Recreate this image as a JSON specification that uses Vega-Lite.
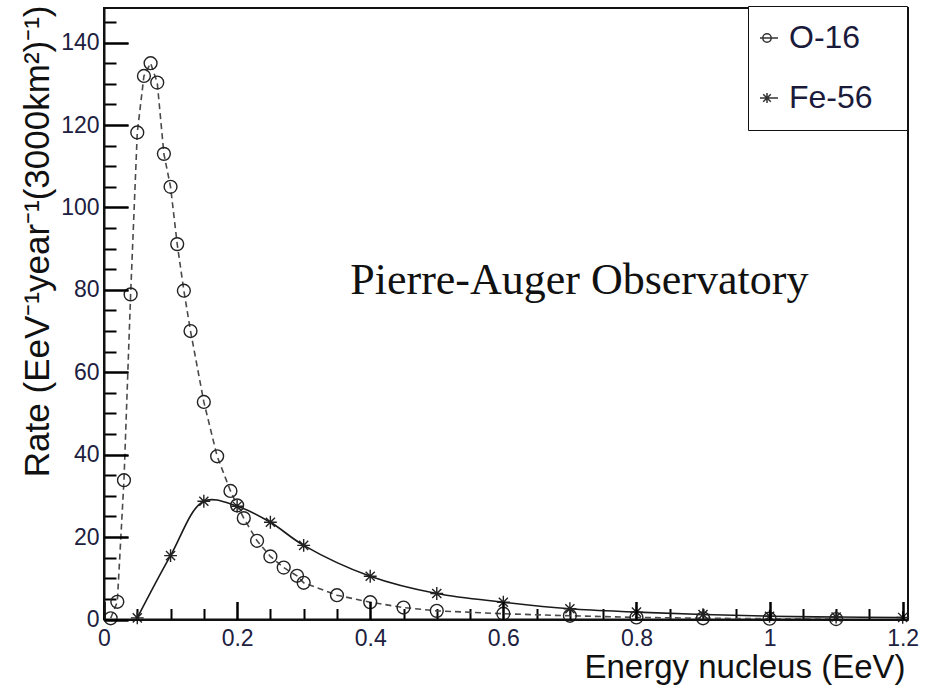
{
  "$schema": "https://vega.github.io/schema/vega-lite/v6.json",
  "autosize": "none",
  "width": 804,
  "height": 611.5,
  "padding": {"left": 104, "top": 8, "right": 26, "bottom": 69.5},
  "background": "white",
  "config": {
    "view": {"stroke": "#111", "strokeWidth": 2},
    "font": "Liberation Sans",
    "axis": {"grid": false, "domainColor": "#111", "domainWidth": 2, "tickColor": "#111", "tickWidth": 1.6, "labelColor": "#202040", "labelFont": "Liberation Sans", "labelFontSize": 23, "titleFont": "Liberation Sans", "titleColor": "#111", "titleFontWeight": "normal"}
  },
  "datasets": {
    "rates": [
      {"series": "O-16", "energy": 0.01, "rate": 0.3},
      {"series": "O-16", "energy": 0.02, "rate": 4.3},
      {"series": "O-16", "energy": 0.03, "rate": 33.8},
      {"series": "O-16", "energy": 0.04, "rate": 78.9},
      {"series": "O-16", "energy": 0.05, "rate": 118.2},
      {"series": "O-16", "energy": 0.06, "rate": 131.9},
      {"series": "O-16", "energy": 0.07, "rate": 135.0},
      {"series": "O-16", "energy": 0.08, "rate": 130.3},
      {"series": "O-16", "energy": 0.09, "rate": 113.0},
      {"series": "O-16", "energy": 0.10, "rate": 105.0},
      {"series": "O-16", "energy": 0.11, "rate": 91.1},
      {"series": "O-16", "energy": 0.12, "rate": 79.8},
      {"series": "O-16", "energy": 0.13, "rate": 70.0},
      {"series": "O-16", "energy": 0.15, "rate": 52.8},
      {"series": "O-16", "energy": 0.17, "rate": 39.6},
      {"series": "O-16", "energy": 0.19, "rate": 31.2},
      {"series": "O-16", "energy": 0.20, "rate": 27.7},
      {"series": "O-16", "energy": 0.21, "rate": 24.6},
      {"series": "O-16", "energy": 0.23, "rate": 19.1},
      {"series": "O-16", "energy": 0.25, "rate": 15.3},
      {"series": "O-16", "energy": 0.27, "rate": 12.6},
      {"series": "O-16", "energy": 0.29, "rate": 10.6},
      {"series": "O-16", "energy": 0.30, "rate": 8.9},
      {"series": "O-16", "energy": 0.35, "rate": 5.9},
      {"series": "O-16", "energy": 0.40, "rate": 4.2},
      {"series": "O-16", "energy": 0.45, "rate": 2.9},
      {"series": "O-16", "energy": 0.50, "rate": 2.1},
      {"series": "O-16", "energy": 0.60, "rate": 1.4},
      {"series": "O-16", "energy": 0.70, "rate": 0.9},
      {"series": "O-16", "energy": 0.80, "rate": 0.5},
      {"series": "O-16", "energy": 0.90, "rate": 0.3},
      {"series": "O-16", "energy": 1.00, "rate": 0.2},
      {"series": "O-16", "energy": 1.10, "rate": 0.1},
      {"series": "Fe-56", "energy": 0.05, "rate": 0.4},
      {"series": "Fe-56", "energy": 0.10, "rate": 15.5},
      {"series": "Fe-56", "energy": 0.15, "rate": 28.7},
      {"series": "Fe-56", "energy": 0.20, "rate": 27.5},
      {"series": "Fe-56", "energy": 0.25, "rate": 23.6},
      {"series": "Fe-56", "energy": 0.30, "rate": 18.0},
      {"series": "Fe-56", "energy": 0.40, "rate": 10.5},
      {"series": "Fe-56", "energy": 0.50, "rate": 6.3},
      {"series": "Fe-56", "energy": 0.60, "rate": 4.2},
      {"series": "Fe-56", "energy": 0.70, "rate": 2.6},
      {"series": "Fe-56", "energy": 0.80, "rate": 1.8},
      {"series": "Fe-56", "energy": 0.90, "rate": 1.2},
      {"series": "Fe-56", "energy": 1.00, "rate": 0.8},
      {"series": "Fe-56", "energy": 1.10, "rate": 0.6},
      {"series": "Fe-56", "energy": 1.20, "rate": 0.5}
    ],
    "note": [{"label": "Pierre-Auger Observatory"}]
  },
  "data": {"name": "rates"},
  "resolve": {"axis": {"x": "independent", "y": "independent"}},
  "layer": [
    {
      "transform": [{"filter": "datum.series === 'O-16'"}],
      "mark": {"type": "line", "color": "#4a4a4a", "strokeWidth": 1.6, "strokeDash": [6, 4], "interpolate": "linear"},
      "encoding": {
        "x": {"field": "energy", "type": "quantitative", "scale": {"domain": [0, 1.208], "nice": false, "zero": false},
          "axis": {"orient": "bottom", "zindex": 1, "values": [0, 0.2, 0.4, 0.6, 0.8, 1, 1.2], "format": "~g", "ticks": true, "tickSize": -18, "tickColor": "#000", "tickWidth": 2, "labelPadding": 26, "labelFlush": false,
            "title": "Energy nucleus (EeV)", "titleFontSize": 33, "titleAnchor": "end", "titleAlign": "right", "titleBaseline": "alphabetic", "titleX": 801, "titleY": 58}},
        "y": {"field": "rate", "type": "quantitative", "scale": {"domain": [0, 148.4], "nice": false},
          "axis": {"orient": "left", "zindex": 1, "values": [0, 20, 40, 60, 80, 100, 120, 140], "ticks": true, "tickSize": -24, "tickColor": "#000", "tickWidth": 2, "labelPadding": 29,
            "title": "Rate (EeV⁻¹year⁻¹(3000km²)⁻¹)", "titleFontSize": 35, "titleAnchor": "end", "titleAlign": "right", "titleBaseline": "middle", "titleAngle": -90, "titleX": -67, "titleY": -3}}
      }
    },
    {
      "transform": [{"filter": "datum.series === 'Fe-56'"}],
      "mark": {"type": "line", "color": "#1a1a1a", "strokeWidth": 1.6, "interpolate": "catmull-rom"},
      "encoding": {
        "x": {"field": "energy", "type": "quantitative",
          "axis": {"orient": "top", "zindex": 1, "offset": -611.5, "values": [0, 0.2, 0.4, 0.6, 0.8, 1, 1.2], "tickSize": 18, "tickColor": "#000", "tickWidth": 2, "labels": false, "domain": false, "title": null}},
        "y": {"field": "rate", "type": "quantitative",
          "axis": {"orient": "right", "zindex": 1, "offset": -804, "values": [0, 20, 40, 60, 80, 100, 120, 140], "tickSize": 24, "tickColor": "#000", "tickWidth": 2, "labels": false, "domain": false, "title": null}}
      }
    },
    {
      "mark": {"type": "point", "filled": false, "strokeWidth": 1.4, "opacity": 1, "color": "#222", "size": 165},
      "encoding": {
        "x": {"field": "energy", "type": "quantitative",
          "axis": {"orient": "top", "offset": -611.5, "values": [0.05, 0.1, 0.15, 0.25, 0.3, 0.35, 0.45, 0.5, 0.55, 0.65, 0.7, 0.75, 0.85, 0.9, 0.95, 1.05, 1.1, 1.15], "tickSize": 11, "tickColor": "#000", "tickWidth": 2, "labels": false, "domain": false, "title": null}},
        "y": {"field": "rate", "type": "quantitative",
          "axis": {"orient": "right", "offset": -804, "values": [5, 10, 15, 25, 30, 35, 45, 50, 55, 65, 70, 75, 85, 90, 95, 105, 110, 115, 125, 130, 135, 145], "tickSize": 12, "tickColor": "#000", "tickWidth": 2, "labels": false, "domain": false, "title": null}},
        "shape": {"condition": {"test": "datum.series === 'O-16'", "value": "circle"}, "value": "M-1,0L1,0M0,-1L0,1M-0.71,-0.71L0.71,0.71M-0.71,0.71L0.71,-0.71"}
      }
    },
    {
      "transform": [{"filter": "false"}],
      "mark": {"type": "point", "filled": false, "strokeWidth": 1.4, "opacity": 1, "color": "#333", "size": 400},
      "encoding": {
        "shape": {"field": "series", "type": "nominal",
          "scale": {"domain": ["O-16", "Fe-56"], "range": [
            "M-2,0L-0.2,0M-1.72,0A0.42,0.42 0 1,0 -0.88,0A0.42,0.42 0 1,0 -1.72,0",
            "M-2,0L-0.2,0M-1.3,-0.5L-1.3,0.5M-1.68,-0.38L-0.92,0.38M-1.68,0.38L-0.92,-0.38"]},
          "legend": {"title": "\u00a0", "titleOrient": "right", "titleFontSize": 32, "titlePadding": 18,
            "orient": "none", "legendX": 644, "legendY": -2, "padding": 16,
            "strokeColor": "#111", "fillColor": "white", "labelFontSize": 32, "labelColor": "#1a1a3a", "labelFont": "Liberation Sans",
            "symbolSize": 400, "labelOffset": -7, "rowPadding": 28}}
      }
    },
    {
      "data": {"name": "note"},
      "mark": {"type": "text", "font": "Liberation Serif", "fontSize": 44, "align": "left", "baseline": "alphabetic", "color": "#111"},
      "encoding": {
        "text": {"field": "label"},
        "x": {"datum": 0.37, "type": "quantitative", "axis": null},
        "y": {"datum": 79, "type": "quantitative", "axis": null}
      }
    }
  ]
}
